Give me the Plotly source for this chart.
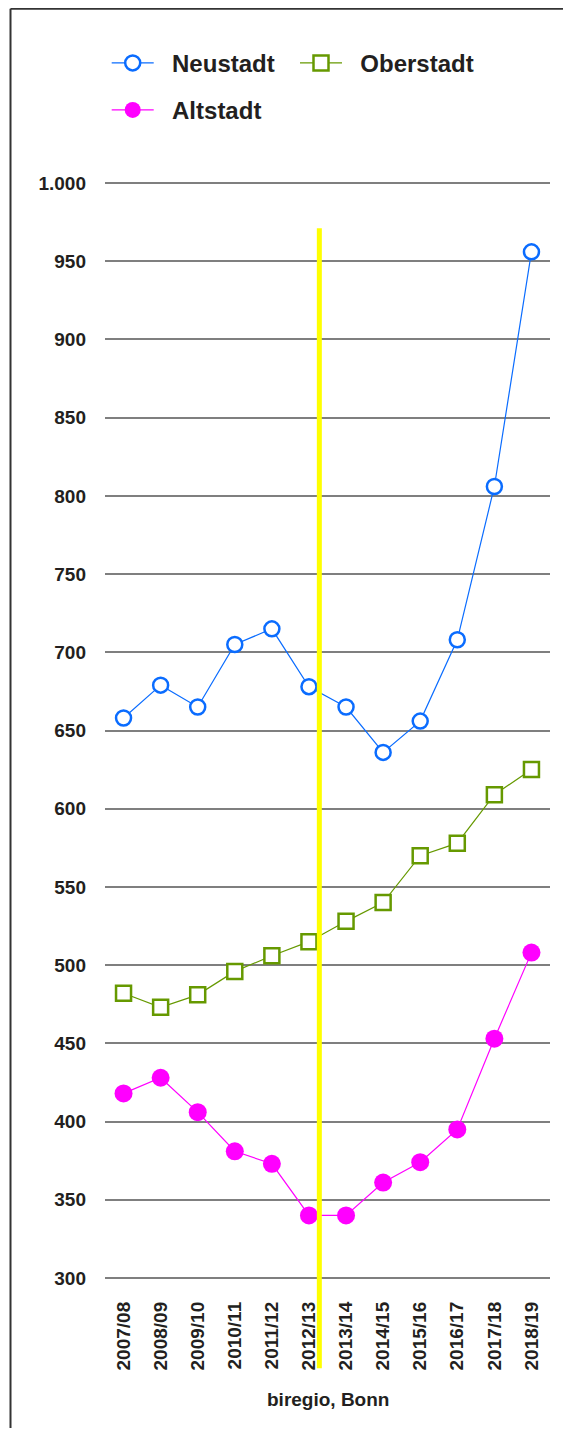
import plotly.graph_objects as go

categories = ["2007/08", "2008/09", "2009/10", "2010/11", "2011/12", "2012/13",
              "2013/14", "2014/15", "2015/16", "2016/17", "2017/18", "2018/19"]
neustadt = [658, 679, 665, 705, 715, 678, 665, 636, 656, 708, 806, 956]
oberstadt = [482, 473, 481, 496, 506, 515, 528, 540, 570, 578, 609, 625]
altstadt = [418, 428, 406, 381, 373, 340, 340, 361, 374, 395, 453, 508]
y_ticks = [300, 350, 400, 450, 500, 550, 600, 650, 700, 750, 800, 850, 900, 950, 1000]
marker_pos = 5.28  # yellow marker line between 2012/13 and 2013/14
source = "biregio, Bonn"

FONT = "Liberation Sans, Arial, Helvetica, sans-serif"
TXT = "#231f20"
BLUE = "#0a6cff"
GREEN = "#669900"
MAGENTA = "#ff00ff"
NB = "\u00a0\u00a0"

fig = go.Figure()
fig.add_trace(go.Scatter(
    x=categories, y=neustadt, name=NB + "Neustadt", mode="lines+markers",
    line=dict(color=BLUE, width=1.2),
    marker=dict(symbol="circle", size=15, color="white", line=dict(color=BLUE, width=2.5)),
    legend="legend"))
fig.add_trace(go.Scatter(
    x=categories, y=oberstadt, name=NB + "Oberstadt", mode="lines+markers",
    line=dict(color=GREEN, width=1.2),
    marker=dict(symbol="square", size=15, color="white", line=dict(color=GREEN, width=2.5)),
    legend="legend2"))
fig.add_trace(go.Scatter(
    x=categories, y=altstadt, name=NB + "Altstadt", mode="lines+markers",
    line=dict(color=MAGENTA, width=1.2),
    marker=dict(symbol="circle", size=18, color=MAGENTA, line=dict(width=0)),
    legend="legend3"))

# page offset of the figure (body margin)
OFF = 8
W, H = 563, 1420
ml, mr = 97, 21
mt = 173.7
ph = 1097
mb = H - mt - ph
pw = W - ml - mr
yr = [299.35, 1000.65]

def px(xp):
    """page x pixel -> paper"""
    return (xp - OFF - ml) / pw

def py(yp):
    """page y pixel -> paper"""
    return (H - mb - (yp - OFF)) / ph

# yellow marker line
fig.add_shape(type="line", xref="x", yref="paper",
              x0=marker_pos, x1=marker_pos, y0=py(1368), y1=py(228),
              line=dict(color="#ffff00", width=5), layer="above")
# outer frame: only top and left edges are visible
fig.add_shape(type="line", xref="paper", yref="paper",
              x0=px(10.5), x1=px(700), y0=py(8.5), y1=py(8.5),
              line=dict(color="#333333", width=2))
fig.add_shape(type="line", xref="paper", yref="paper",
              x0=px(10.5), x1=px(10.5), y0=py(1500), y1=py(8.5),
              line=dict(color="#333333", width=2))

fig.add_annotation(text=source, xref="paper", yref="paper", x=0.5, y=py(1399),
                   xanchor="center", yanchor="middle", showarrow=False,
                   font=dict(family=FONT, size=19, color=TXT, weight="bold"))

legfont = dict(family=FONT, size=24, color=TXT, weight="bold")
common = dict(orientation="h", xanchor="left", yanchor="middle", font=legfont,
              bgcolor="rgba(0,0,0,0)", borderwidth=0, itemwidth=42)
fig.update_layout(
    width=W, height=H,
    margin=dict(l=ml, r=mr, t=mt, b=mb, pad=0),
    paper_bgcolor="white", plot_bgcolor="white",
    separators=",.",
    showlegend=True,
    legend=dict(x=px(106.7), y=py(63), **common),
    legend2=dict(x=px(295), y=py(63), **common),
    legend3=dict(x=px(106.7), y=py(110), **common),
    xaxis=dict(type="category", categoryorder="array", categoryarray=categories,
               range=[-0.5, 11.5], tickangle=-90, showgrid=False, zeroline=False,
               showline=False, ticks="", ticklabelstandoff=18,
               tickfont=dict(family=FONT, size=19, color=TXT, weight="bold")),
    yaxis=dict(range=yr, tickmode="array", tickvals=y_ticks,
               tickformat=",d", showgrid=True, gridcolor="#7f7f7f", gridwidth=1.5,
               zeroline=False, showline=False, ticks="", ticklabelstandoff=18,
               tickfont=dict(family=FONT, size=19, color=TXT, weight="bold")),
)

fig.write_html("out.html")
